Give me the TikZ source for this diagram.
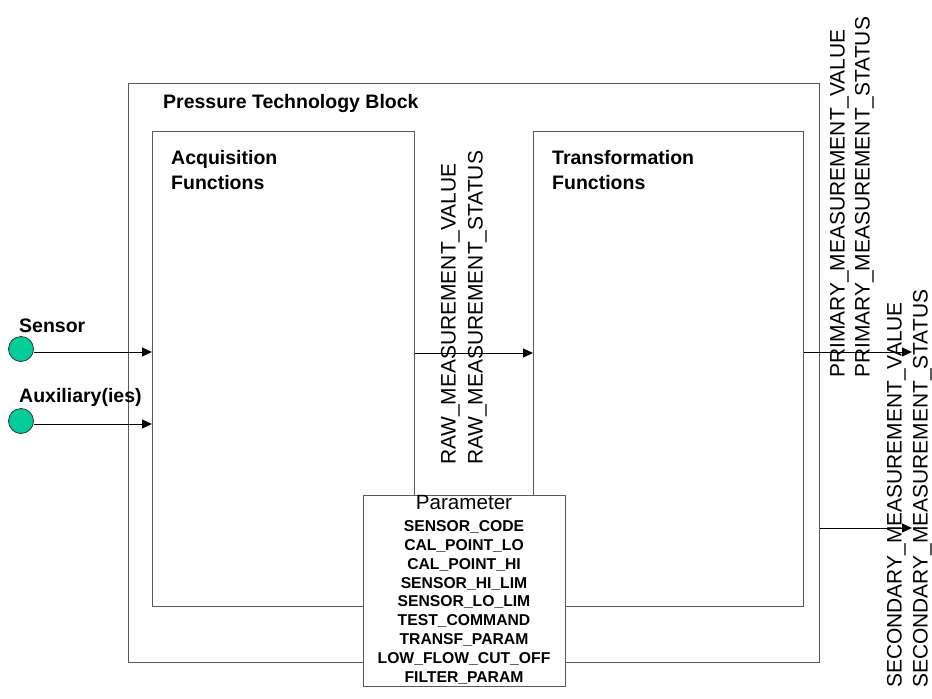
\documentclass[tikz,border=0pt]{standalone}
\usepackage{fontspec}
\setmainfont{Liberation Sans}
\usetikzlibrary{arrows.meta}
\definecolor{sensgreen}{RGB}{0,204,153}
\definecolor{boxline}{RGB}{90,90,90}
\tikzset{
  blockbox/.style={draw=boxline, line width=1pt, anchor=north west, inner sep=0pt},
  arr/.style={draw=black, line width=0.9pt, -{Triangle[length=10pt,width=9pt]}},
  hdr/.style={font=\bfseries\fontsize{19.5}{25}\selectfont, inner sep=0pt, align=left},
  sig/.style={font=\fontsize{20.95}{25}\selectfont, inner sep=0pt, rotate=90, anchor=base west},
  port/.style={circle, draw=black!80, fill=sensgreen, line width=0.8pt, minimum size=25pt, inner sep=0pt},
}
\begin{document}
\begin{tikzpicture}[x=1pt, y=-1pt]
\useasboundingbox (0,0) rectangle (932,699);
% boxes
\node[blockbox, minimum width=691pt, minimum height=579pt] (outer) at (128,83) {};
\node[blockbox, minimum width=262pt, minimum height=475pt] (acq) at (152,131) {};
\node[blockbox, minimum width=270pt, minimum height=475pt] (trans) at (533,131) {};
% headers
\node[hdr, anchor=base west] (ptb) at (163,108) {Pressure Technology Block};
\node[hdr, anchor=north west] (acqt) at (171,150) {Acquisition\\Functions};
\node[hdr, anchor=north west] (transt) at (552,150) {Transformation\\Functions};
% sensors
\node[port] (sensor) at (21,349) {};
\node[port] (aux) at (21,421) {};
\node[hdr, anchor=base west] (sensort) at (19,332) {Sensor};
\node[hdr, anchor=base west] (auxt) at (19,402) {Auxiliary(ies)};
\draw[arr] ([yshift=-3pt]sensor.east) -- ([yshift=-3pt]sensor.east -| acq.west);
\draw[arr] ([yshift=-3pt]aux.east) -- ([yshift=-3pt]aux.east -| acq.west);
% raw
\node[sig] (rawv) at (455.5,465) {RAW\_MEASUREMENT\_VALUE};
\node[sig] (raws) at (482.5,465) {RAW\_MEASUREMENT\_STATUS};
\coordinate (rawy) at (0,353);
\draw[arr] (acq.east |- rawy) -- (trans.west |- rawy);
% primary
\node[sig] (primv) at (844.5,378) {PRIMARY\_MEASUREMENT\_VALUE};
\node[sig] (prims) at (869.5,378) {PRIMARY\_MEASUREMENT\_STATUS};
\coordinate (pend) at (912,352);
\draw[arr] (trans.east |- pend) -- (pend);
% secondary
\node[sig] (secv) at (901.5,688) {SECONDARY\_MEASUREMENT\_VALUE};
\node[sig] (secs) at (927.5,688) {SECONDARY\_MEASUREMENT\_STATUS};
\coordinate (send) at (912,528);
\draw[arr] (outer.east |- send) -- (send);
% parameter box
\node[blockbox, fill=white, minimum width=202pt, minimum height=191pt] (param) at (363,495) {};
\node[anchor=north, inner sep=0pt, align=center, font=\bfseries\fontsize{15.7}{18.9}\selectfont] (paramt) at (464,495.3)
  {{\mdseries\fontsize{20.6}{18.9}\selectfont Parameter}\\[2.8pt]
   SENSOR\_CODE\\CAL\_POINT\_LO\\CAL\_POINT\_HI\\SENSOR\_HI\_LIM\\SENSOR\_LO\_LIM\\TEST\_COMMAND\\TRANSF\_PARAM\\LOW\_FLOW\_CUT\_OFF\\FILTER\_PARAM};
\end{tikzpicture}
\end{document}
